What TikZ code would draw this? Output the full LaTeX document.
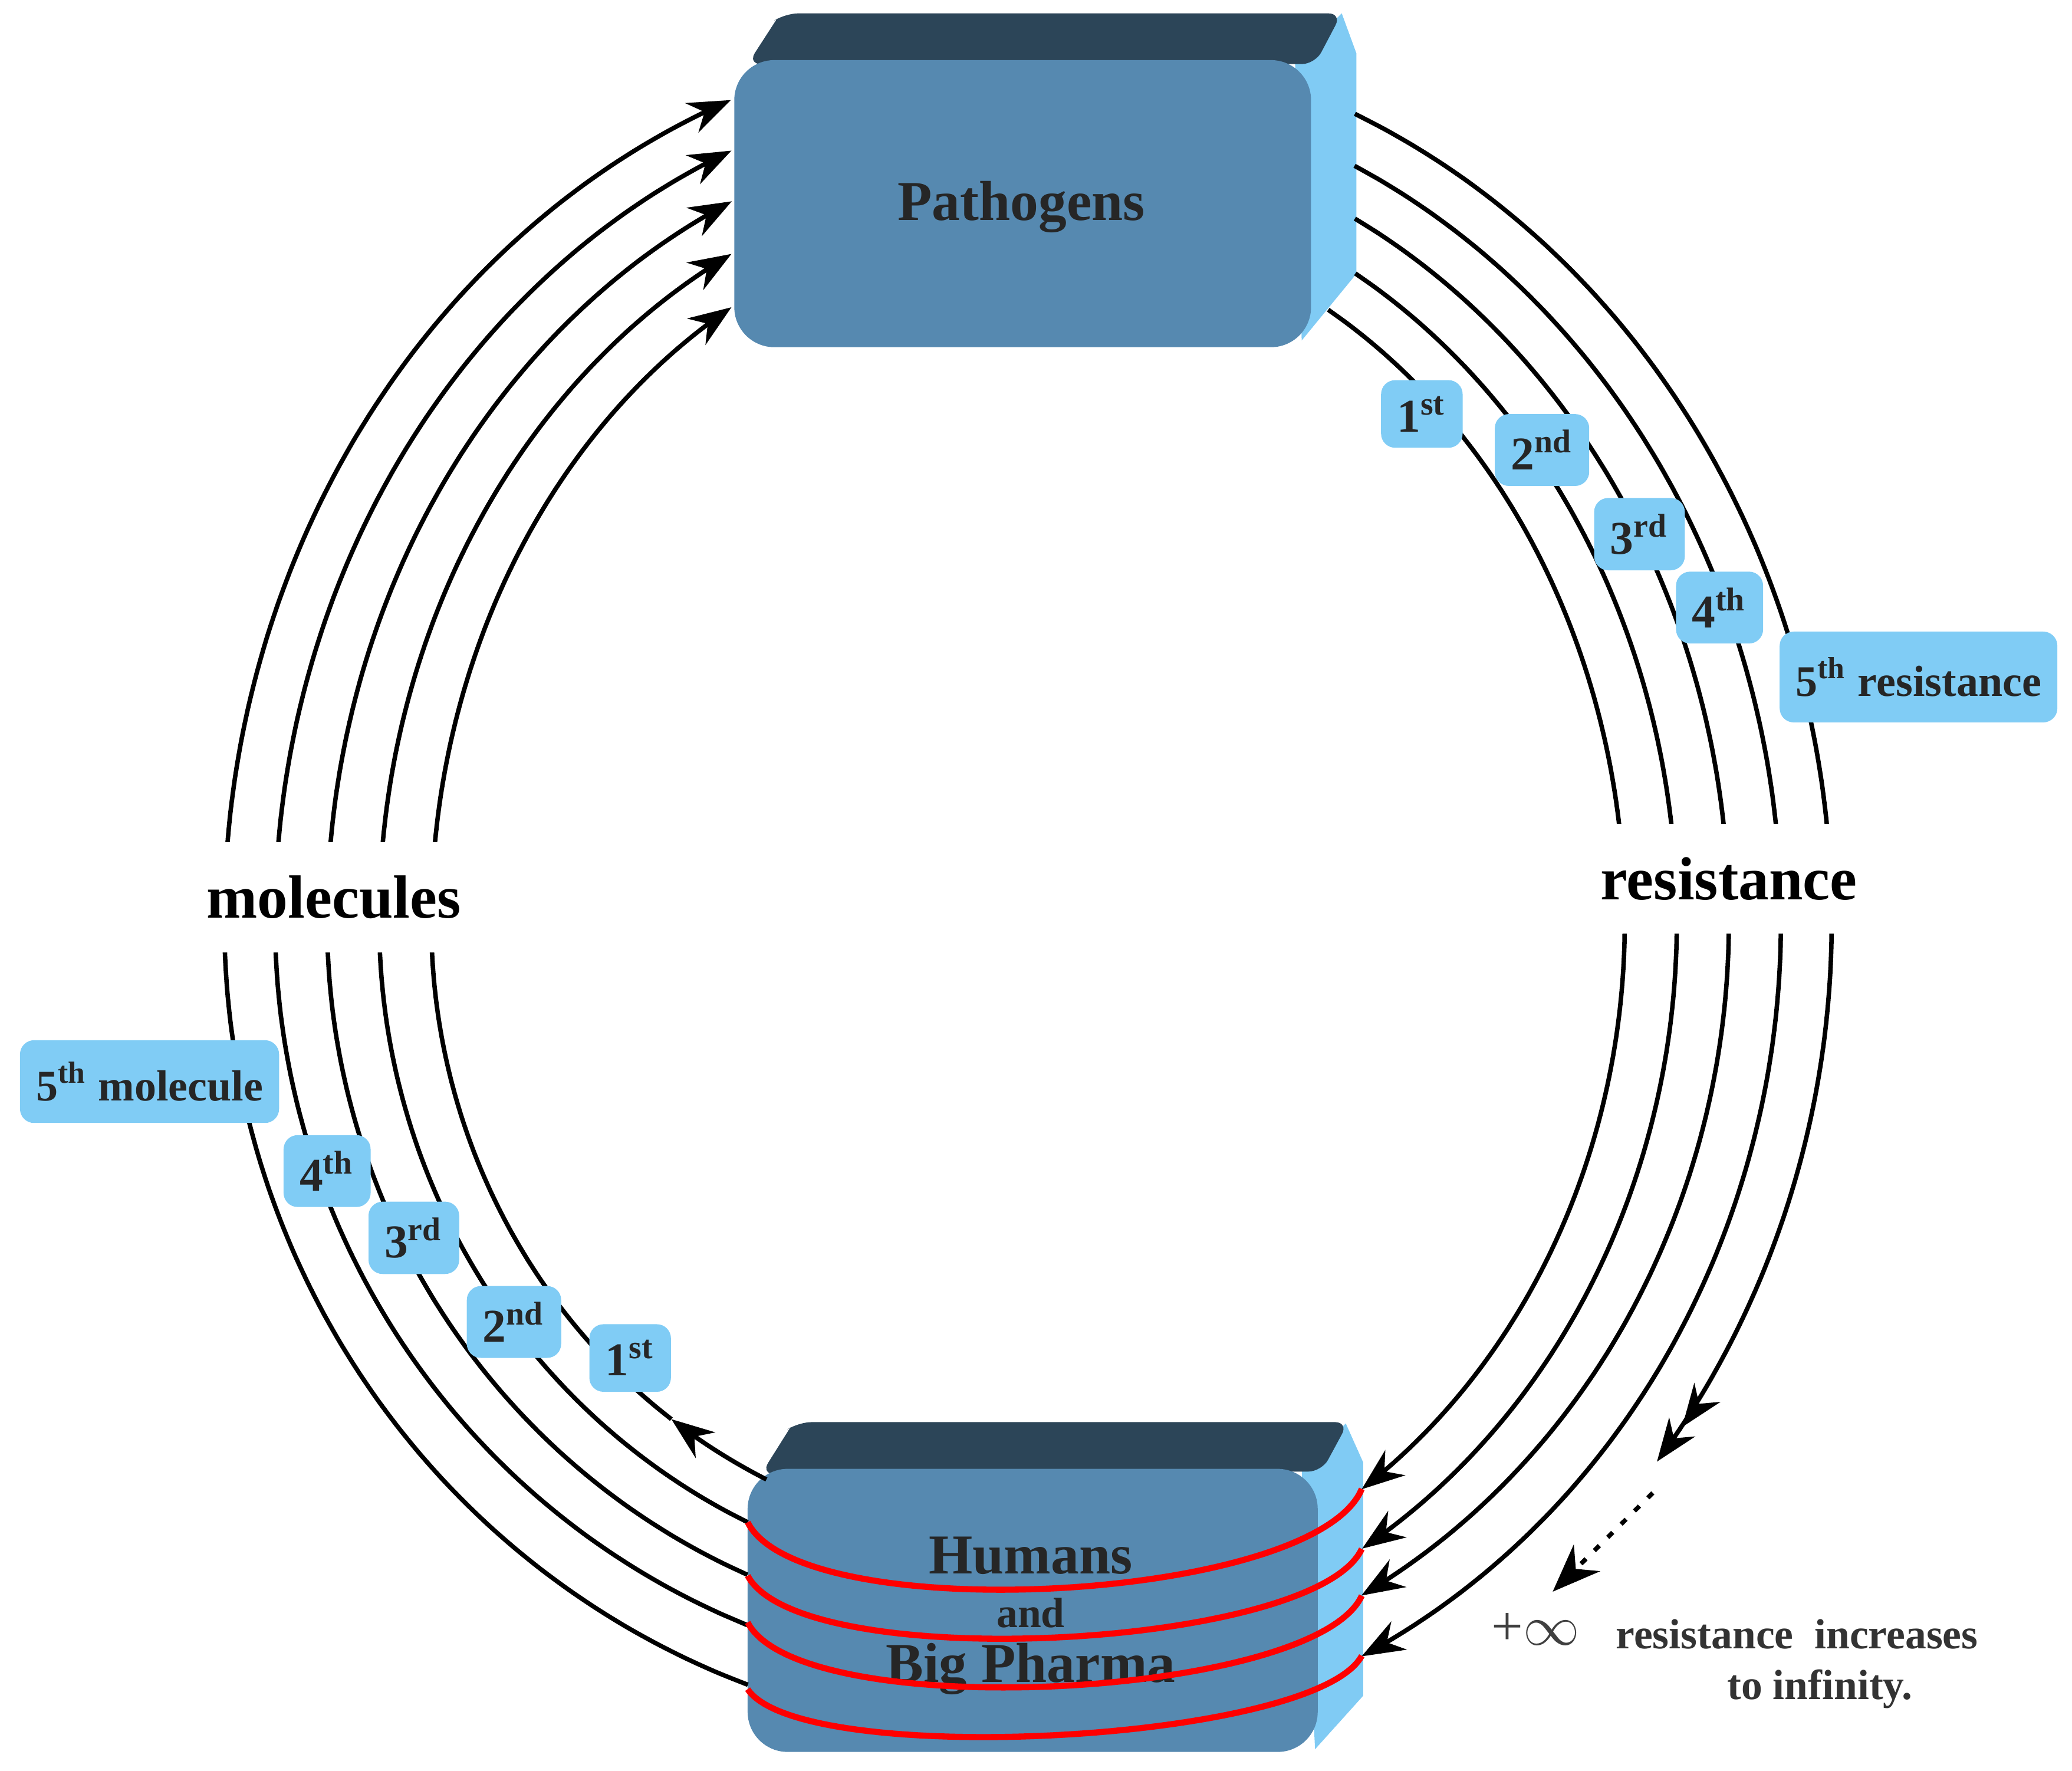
\documentclass[tikz,border=0pt]{standalone}
\usepackage{fontspec}
\setmainfont{Liberation Serif}
\usetikzlibrary{arrows.meta}
\definecolor{front}{HTML}{5689B0}
\definecolor{topc}{HTML}{2C4558}
\definecolor{side}{HTML}{80CBF4}
\definecolor{lab}{HTML}{80CCF5}
\begin{document}
\begin{tikzpicture}[x=0.1mm,y=-0.1mm,
  arc/.style={line width=0.95pt,black},
  tip/.style={-{Stealth[length=3.2mm,width=2.4mm]}},
  redarc/.style={line width=1.3pt,draw=red},
  lb/.style={fill=lab,rounded corners=3pt,inner sep=1.2mm,font=\bfseries\fontsize{10}{12}\selectfont,text=black!85},
  big/.style={font=\bfseries\fontsize{13}{15}\selectfont,fill=white,inner xsep=0.5mm,inner ysep=2.5mm}]
\useasboundingbox (0,0) rectangle (1552,1326);
% Pathogens box
\fill[side] (970,45) -- (1005,10) -- (1016,40) -- (1016,205) -- (975,255) -- cycle;
\fill[topc] (560,48) -- (582,14) [rounded corners=1mm] -- (588,10) -- (1005,10) -- (985,48) -- cycle;
\fill[front,rounded corners=3mm] (550,45) rectangle (982,260);
\node[font=\bfseries\fontsize{12}{14}\selectfont,text=black!85] (path) at (765,155) {Pathogens};
% Humans box
\fill[side] (975,1100) -- (1008,1066) -- (1021,1095) -- (1021,1270) -- (985,1310) -- cycle;
\fill[topc] (570,1104) -- (592,1069) [rounded corners=1mm] -- (598,1065) -- (1010,1065) -- (990,1102) -- cycle;
\fill[front,rounded corners=3mm] (560,1100) rectangle (987,1312);
% left arcs (molecules)
\draw[arc,tip] plot[domain=116:126.7,samples=10,smooth,variable=\t] ({770+447*cos(\t)},{690+465*sin(\t)});
\draw[arc,tip] plot[domain=126.7:180,samples=30,smooth,variable=\t] ({770+447*cos(\t)},{690+465*sin(\t)}) -- plot[domain=180:240.2,samples=30,smooth,variable=\t] ({770+447*cos(\t)},{690+530*sin(\t)});
\draw[arc,tip] plot[domain=115.6:180,samples=30,smooth,variable=\t] ({770+486*cos(\t)},{690+499*sin(\t)}) -- plot[domain=180:242.8,samples=30,smooth,variable=\t] ({770+486*cos(\t)},{690+562*sin(\t)});
\draw[arc,tip] plot[domain=113.6:180,samples=30,smooth,variable=\t] ({770+525*cos(\t)},{690+534*sin(\t)}) -- plot[domain=180:245,samples=30,smooth,variable=\t] ({770+525*cos(\t)},{690+595*sin(\t)});
\draw[arc,tip] plot[domain=111.9:180,samples=30,smooth,variable=\t] ({770+564*cos(\t)},{690+568*sin(\t)}) -- plot[domain=180:246.8,samples=30,smooth,variable=\t] ({770+564*cos(\t)},{690+628*sin(\t)});
\draw[arc,tip] plot[domain=110.4:180,samples=30,smooth,variable=\t] ({770+602*cos(\t)},{690+610*sin(\t)}) -- plot[domain=180:248.3,samples=30,smooth,variable=\t] ({770+602*cos(\t)},{690+662*sin(\t)});
% right arcs (resistance)
\draw[arc,tip] plot[domain=-59.8:0,samples=30,smooth,variable=\t] ({770+447*cos(\t)},{690+530*sin(\t)}) -- plot[domain=0:56,samples=30,smooth,variable=\t] ({770+447*cos(\t)},{690+513*sin(\t)});
\draw[arc,tip] plot[domain=-59.7:0,samples=30,smooth,variable=\t] ({770+486*cos(\t)},{690+562*sin(\t)}) -- plot[domain=0:59,samples=30,smooth,variable=\t] ({770+486*cos(\t)},{690+548*sin(\t)});
\draw[arc,tip] plot[domain=-62.2:0,samples=30,smooth,variable=\t] ({770+525*cos(\t)},{690+595*sin(\t)}) -- plot[domain=0:61.6,samples=30,smooth,variable=\t] ({770+525*cos(\t)},{690+574*sin(\t)});
\draw[arc,tip] plot[domain=-64.3:0,samples=30,smooth,variable=\t] ({770+564*cos(\t)},{690+628*sin(\t)}) -- plot[domain=0:63.7,samples=30,smooth,variable=\t] ({770+564*cos(\t)},{690+614*sin(\t)});
\draw[arc,-{Stealth[length=3.2mm,width=2.4mm]Stealth[length=3.2mm,width=2.4mm]}] plot[domain=-66:0,samples=30,smooth,variable=\t] ({770+602*cos(\t)},{690+662*sin(\t)}) -- plot[domain=0:38.5,samples=30,smooth,variable=\t] ({770+602*cos(\t)},{690+650*sin(\t)});
\coordinate (d1) at (1238,1118);
\coordinate (d2) at (1163,1192);
\draw[arc,dash pattern=on 1.5pt off 2.5pt,-{Stealth[length=3.6mm,width=2.8mm]}] (d1) -- (d2);
% humans text
\node[font=\bfseries\fontsize{12}{14}\selectfont,text=black!85] (hum) at (772,1165) {Humans};
\node[font=\bfseries\fontsize{9}{10}\selectfont,text=black!85] (and) at (772,1208) {and};
\node[font=\bfseries\fontsize{12}{14}\selectfont,text=black!85] (bp) at (772,1250) {Big Pharma};
% red arcs
\draw[redarc] (1020,1115) .. controls (985,1200) and (600,1220) .. (560,1140);
\draw[redarc] (1020,1160) .. controls (985,1235) and (600,1255) .. (560,1180);
\draw[redarc] (1020,1195) .. controls (985,1272) and (600,1292) .. (560,1215);
\draw[redarc] (1020,1240) .. controls (985,1305) and (600,1325) .. (560,1265);
% big labels
\node[big] (mol) at (250,672) {molecules};
\node[big] (res) at (1295,658) {resistance};
% small labels
\node[lb] (r1) at (1065,310) {1\textsuperscript{st}};
\node[lb] (r2) at (1155,337) {2\textsuperscript{nd}};
\node[lb] (r3) at (1228,400) {3\textsuperscript{rd}};
\node[lb] (r4) at (1288,455) {4\textsuperscript{th}};
\node[lb,minimum height=6.8mm,font=\bfseries\fontsize{9.3}{11}\selectfont] (r5) at (1437,507) {5\textsuperscript{th} resistance};
\node[lb,minimum height=6.2mm,font=\bfseries\fontsize{9.3}{11}\selectfont] (m5) at (112,810) {5\textsuperscript{th} molecule};
\node[lb] (m4) at (245,877) {4\textsuperscript{th}};
\node[lb] (m3) at (310,927) {3\textsuperscript{rd}};
\node[lb] (m2) at (385,990) {2\textsuperscript{nd}};
\node[lb] (m1) at (472,1017) {1\textsuperscript{st}};
% infinity note
\node[font=\fontsize{12}{14}\selectfont,text=black!75] (inf) at (1150,1220) {+$\infty$};
\node[font=\bfseries\fontsize{9}{11}\selectfont,text=black!80,anchor=west] (ri) at (1198,1224) {resistance\ \ increases};
\node[font=\bfseries\fontsize{9}{11}\selectfont,text=black!80,anchor=east] (ti) at (1445,1265) {to infinity.};
\end{tikzpicture}
\end{document}
